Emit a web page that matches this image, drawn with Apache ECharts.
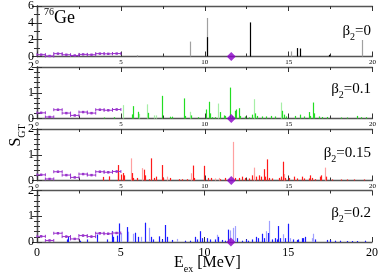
<!DOCTYPE html>
<html><head><meta charset="utf-8">
<script src="https://cdn.jsdelivr.net/npm/echarts@6/dist/echarts.min.js"></script>
<style>html,body{margin:0;padding:0;background:#fff}#c{width:381px;height:274px}</style>
</head><body><div id="c"></div>
<script>
// ---- data ----
const xTicks = [0, 5, 10, 15, 20];
const yMaxes = [6, 2, 2, 2];
const yIntervals = [2, 1, 1, 1];
const panelLabels = ['0', '0.1', '0.15', '0.2'];
// experimental B(GT) bins (0.5 MeV wide)
const expE = [0.25, 0.75, 1.25, 1.75, 2.25, 2.75, 3.25, 3.75, 4.25, 4.75];
const expS = [0.22, 0.06, 0.34, 0.21, 0.12, 0.25, 0.21, 0.34, 0.32, 0.35];
const expErr = [0.04, 0.03, 0.04, 0.04, 0.03, 0.04, 0.04, 0.04, 0.04, 0.04];
const expHalfBin = 0.25;
// giant resonance position
const gtrE = [11.58];

// beta2 = 0
const p0Dark = [[10.13,2.3],[12.7,4.05],[15.5,1.0],[15.66,0.95],[17.4,0.2]];
const p0Light = [[5.95,0.15],[9.13,1.77],[10.13,4.58],[15.15,0.6],[19.4,1.96]];
// beta2 = 0.1
const p1Light = [[5.11,0.52],[6.11,0.18],[6.55,0.55],[7.0,0.12],[7.1,0.12],[9.13,0.26],[10.79,0.58],[12.92,0.75],[14.55,0.62]];
const p1Dark = [[4.0,0.04],[4.6,0.05],[5.65,0.16],[5.75,0.48],[6.05,0.26],[6.59,0.22],[7.44,0.88],[7.9,0.07],[8.04,0.07],[8.74,0.78],[8.8,0.1],[9.19,0.12],[9.57,0.05],
 [10.09,0.35],[10.23,0.65],[10.29,0.2],[10.43,0.05],[10.63,0.05],[10.89,0.25],[11.13,0.12],[11.23,0.1],[11.48,1.2],[11.62,0.1],[11.78,0.3],[11.88,0.35],[12.02,0.4],[12.12,0.1],[12.42,0.08],[12.61,0.04],
 [12.82,0.15],[12.98,0.2],[13.11,0.1],[13.41,0.08],[13.67,0.08],[13.95,0.1],[14.21,0.08],[14.61,0.3],[14.71,0.15],[14.87,0.08],[15.4,0.1],[15.7,0.15],[15.9,0.08],[16.2,0.25],[16.3,0.1],[16.44,0.62],[16.5,0.2],
 [16.8,0.08],[17.0,0.06],[17.3,0.06],[18.1,0.04],[18.5,0.04],[19.05,0.1],[19.3,0.05],[19.6,0.05]];
// beta2 = 0.15
const p2Light = [[5.59,0.86],[6.25,0.48],[7.74,0.15],[9.18,0.28],[10.63,0.08],[10.83,0.1],[11.68,1.5],[12.92,0.5],[14.71,0.25],[17.14,0.5]];
const p2Dark = [[3.96,0.14],[4.32,0.16],[4.8,0.6],[4.85,0.29],[4.98,0.23],[5.11,0.29],[5.19,0.2],[5.65,0.29],[5.71,0.1],[5.99,0.1],[6.35,0.42],[6.45,0.2],[6.65,0.05],[6.81,0.86],[6.95,0.1],[7.1,0.15],
 [7.48,0.6],[7.54,0.1],[7.94,0.1],[8.44,0.05],[8.64,0.05],[8.94,0.05],[9.27,0.58],[9.33,0.1],[9.93,0.57],[10.17,0.1],[10.37,0.1],[10.93,0.05],[11.23,0.1],[11.42,0.05],[11.78,0.1],[12.02,0.1],[12.22,0.15],[12.42,0.1],[12.61,0.08],
 [12.82,0.2],[13.07,0.15],[13.21,0.2],[13.35,0.15],[13.51,0.44],[13.61,0.15],[13.71,0.82],[13.81,0.1],[14.01,0.08],[14.41,0.1],[14.55,0.15],[14.65,0.73],[14.81,0.1],[15.0,0.1],[15.3,0.15],[15.5,0.08],
 [15.8,0.15],[15.9,0.08],[16.2,0.08],[16.3,0.2],[16.4,0.1],[16.6,0.05],[16.86,0.15],[16.94,0.2],[17.24,0.15],[17.6,0.04],[18.1,0.04],[18.5,0.04],[18.9,0.04],[19.5,0.04]];
// beta2 = 0.2
const p3Light = [[5.0,0.35],[5.45,0.4],[5.75,0.32],[6.19,0.2],[6.71,0.55],[8.38,0.12],[10.73,0.28],[11.52,0.45],[11.72,0.55],[11.82,0.62],[13.67,0.42],[13.85,0.82],[14.71,0.3],[15.1,0.15],[16.4,0.15],[16.5,0.32]];
const p3Dark = [[1.77,0.1],[1.87,0.2],[2.57,0.05],[3.0,0.1],[3.56,0.29],[4.16,0.1],[4.46,0.42],[4.56,0.2],[4.8,0.25],[4.92,0.72],[5.35,0.58],[5.85,0.36],[6.05,0.2],[6.45,0.75],[6.79,0.2],[6.95,0.1],
 [7.3,0.22],[7.44,0.1],[7.64,0.66],[7.74,0.2],[8.04,0.08],[8.84,0.05],[9.13,0.05],[9.43,0.2],[9.53,0.1],[9.73,0.42],[9.83,0.15],[10.13,0.15],[10.33,0.1],[10.63,0.1],[10.83,0.2],[11.03,0.08],[11.23,0.05],[11.42,0.48],
 [11.92,0.15],[12.22,0.05],[12.48,0.1],[12.61,0.05],[12.82,0.1],[13.07,0.2],[13.21,0.15],[13.41,0.32],[13.55,0.15],[13.77,0.35],[14.01,0.1],[14.21,0.15],[14.31,0.1],[14.41,0.62],[14.51,0.15],[14.81,0.15],[15.0,0.71],
 [15.3,0.1],[15.5,0.08],[15.6,0.1],[15.8,0.15],[15.9,0.15],[16.0,0.2],[16.6,0.1],[17.3,0.08],[17.5,0.08],[17.8,0.05],[18.1,0.05],[18.5,0.04],[18.8,0.04],[19.1,0.04],[19.6,0.05]];

const darkSets = [p0Dark, p1Dark, p2Dark, p3Dark];
const lightSets = [p0Light, p1Light, p2Light, p3Light];
const darkColors = ['#000000', '#22dd22', '#ff1a1a', '#1a1aff'];
const lightColors = ['#a0a0a0', '#a6eea6', '#ffa0a0', '#a0a0ff'];
const expColor = '#9933cc';
const gtrColor = '#8a00c8';

// ---- layout ----
const FONT = '"Liberation Serif","DejaVu Serif",serif';
const tops = [5, 67, 129, 190.5];
const H = 51.5;
const axisCol = '#555';

const chart = echarts.init(document.getElementById('c'), null, {renderer: 'canvas'});

const grids = [], xAxes = [], yAxes = [], series = [];
for (let i = 0; i < 4; i++) {
  grids.push({left: 37, right: 8.5, top: tops[i], height: H});
  const last = i === 3;
  const common = {
    gridIndex: i, type: 'value', min: 0, max: 20, interval: 5,
    splitLine: {show: false},
    axisLine: {show: true, onZero: false, lineStyle: {color: axisCol, width: 1.3}},
    axisTick: {show: true, inside: true, length: 5, lineStyle: {color: '#333'}},
    minorTick: {show: true, splitNumber: 2, length: 3, lineStyle: {color: '#333'}}
  };
  xAxes.push(Object.assign({}, common, {
    position: 'bottom',
    axisLabel: last ? {fontSize: 12, margin: 5, color: '#000', fontFamily: FONT}
                    : {fontSize: 7, margin: 2, color: '#000', fontFamily: FONT}
  }));
  xAxes.push(Object.assign({}, common, {position: 'top', axisLabel: {show: false}}));
  const yc = {
    gridIndex: i, type: 'value', min: 0, max: yMaxes[i], interval: yIntervals[i],
    splitLine: {show: false},
    axisLine: {show: true, lineStyle: {color: axisCol, width: 1.3}},
    axisTick: {show: true, inside: true, length: 5, lineStyle: {color: '#333'}},
    minorTick: {show: true, splitNumber: i === 0 ? 2 : 5, length: 3, lineStyle: {color: '#333'}}
  };
  yAxes.push(Object.assign({}, yc, {position: 'left', axisLabel: {fontSize: 12, margin: 3, color: '#000', fontFamily: FONT}}));
  yAxes.push(Object.assign({}, yc, {position: 'right', axisLabel: {show: false}}));
}
// hidden full-height grid carrying the shared y-axis title
grids.push({left: 37, right: 8.5, top: 29, bottom: 32});
xAxes.push({gridIndex: 4, type: 'value', show: false, min: 0, max: 1});
yAxes.push({gridIndex: 4, type: 'value', min: 0, max: 1, show: true,
  axisLine: {show: false}, axisTick: {show: false}, axisLabel: {show: false}, splitLine: {show: false},
  name: '{m|S}{s|GT}', nameLocation: 'middle', nameGap: 26, nameRotate: 90,
  nameTextStyle: {color: '#000', rich: {
    m: {fontSize: 16, lineHeight: 22, fontFamily: FONT, color: '#000'},
    s: {fontSize: 10, lineHeight: 10, verticalAlign: 'bottom', fontFamily: FONT, color: '#000'}}}});

function stickRender(params, api) {
  const x = api.value(0), y = api.value(1);
  const p0 = api.coord([x, 0]), p1 = api.coord([x, y]);
  const px = Math.round(p0[0]) + 0.5;
  return {type: 'line', shape: {x1: px, y1: p0[1], x2: px, y2: p1[1]},
          style: {stroke: api.visual('color'), lineWidth: 1.2}};
}
function expRender(params, api) {
  const e = api.value(0), s = api.value(1), er = api.value(2);
  const l = api.coord([e - expHalfBin, s]), r = api.coord([e + expHalfBin, s]);
  const t = api.coord([e, s + er]), b = api.coord([e, s - er]);
  const st = {stroke: expColor, lineWidth: 1};
  return {type: 'group', children: [
    {type: 'line', shape: {x1: l[0], y1: l[1], x2: r[0], y2: r[1]}, style: st},
    {type: 'line', shape: {x1: l[0], y1: l[1] - 1.5, x2: l[0], y2: l[1] + 1.5}, style: st},
    {type: 'line', shape: {x1: r[0], y1: r[1] - 1.5, x2: r[0], y2: r[1] + 1.5}, style: st},
    {type: 'line', shape: {x1: t[0], y1: t[1], x2: b[0], y2: b[1]}, style: st},
    {type: 'rect', shape: {x: l[0] + (r[0]-l[0])/2 - 1.2, y: l[1] - 1.2, width: 2.4, height: 2.4}, style: {fill: expColor}}
  ]};
}

const expData = expE.map((e, k) => [e, expS[k], expErr[k]]);
for (let i = 0; i < 4; i++) {
  series.push({type: 'custom', xAxisIndex: 2*i, yAxisIndex: 2*i, renderItem: stickRender,
    itemStyle: {color: lightColors[i]}, data: lightSets[i], encode: {x: 0, y: 1}, z: 2, silent: true});
  series.push({type: 'custom', xAxisIndex: 2*i, yAxisIndex: 2*i, renderItem: stickRender,
    itemStyle: {color: darkColors[i]}, data: darkSets[i], encode: {x: 0, y: 1}, z: 3, silent: true});
  series.push({type: 'custom', xAxisIndex: 2*i, yAxisIndex: 2*i, renderItem: expRender,
    data: expData, encode: {x: 0, y: 1}, z: 4, silent: true});
  series.push({type: 'scatter', xAxisIndex: 2*i, yAxisIndex: 2*i, symbol: 'diamond', symbolSize: 9,
    itemStyle: {color: gtrColor}, data: gtrE.map(e => [e, 0]), clip: false, z: 10, silent: true});
}

const labelY = [35, 93, 157, 217];
const graphic = [];
for (let i = 0; i < 4; i++) {
  graphic.push({type: 'text', right: 10, top: labelY[i] - 11, z: 100,
    style: {text: '{m|β}{s|2}{m|=' + panelLabels[i] + '}', fill: '#000',
      rich: {m: {fontSize: 15, lineHeight: 22, fontFamily: FONT, fill: '#000'},
             s: {fontSize: 10, lineHeight: 10, verticalAlign: 'bottom', fontFamily: FONT, fill: '#000'}}}});
}
graphic.push({type: 'text', left: 44, top: 7, z: 100,
  style: {text: '{p|76}{m|Ge}', fill: '#000',
    rich: {m: {fontSize: 18, lineHeight: 22, fontFamily: FONT, fill: '#000'},
           p: {fontSize: 10, lineHeight: 10, verticalAlign: 'top', fontFamily: FONT, fill: '#000'}}}});
graphic.push({type: 'text', x: 174, y: 252, z: 100,
  style: {text: '{m|E}{s|ex}{m| [MeV]}', fill: '#000',
    rich: {m: {fontSize: 16, lineHeight: 22, fontFamily: FONT, fill: '#000'},
           s: {fontSize: 10, lineHeight: 10, verticalAlign: 'bottom', fontFamily: FONT, fill: '#000'}}}});

chart.setOption({
  animation: false,
  backgroundColor: '#fff',
  grid: grids, xAxis: xAxes, yAxis: yAxes, series: series, graphic: graphic
});
</script></body></html>
